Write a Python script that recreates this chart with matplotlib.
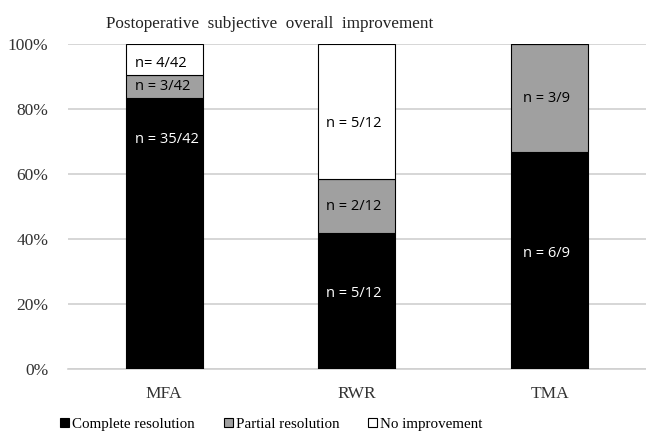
import matplotlib
matplotlib.use("Agg")
import matplotlib.pyplot as plt
import numpy as np

# data
groups = ["MFA", "RWR", "TMA"]
totals = [42, 12, 9]
complete = [35, 5, 6]
partial = [3, 2, 3]
no_improve = [4, 5, 0]
series_names = ["Complete resolution", "Partial resolution", "No improvement"]

colors = ["#000000", "#a0a0a0", "#ffffff"]
text_colors = ["white", "black", "black"]

plt.rcParams["font.family"] = "Liberation Serif"

fig = plt.figure(figsize=(6.46, 4.34), dpi=100)
ax = fig.add_axes([0.105, 0.150, 0.895, 0.749])

x = np.arange(len(groups))
counts = [complete, partial, no_improve]
bottom = np.zeros(len(groups))
for i, (vals, col) in enumerate(zip(counts, colors)):
    frac = np.array(vals) / np.array(totals)
    ax.bar(x, frac, 0.40, bottom=bottom, color=col, edgecolor="black",
           linewidth=0.8, label=series_names[i], zorder=3)
    for j in range(len(groups)):
        if vals[j] == 0:
            continue
        yc = bottom[j] + frac[j] / 2
        lbl = f"n = {vals[j]}/{totals[j]}"
        if groups[j] == "MFA":
            # labels in the first bar were nudged by hand
            if i == 0:
                yc = 0.705
            if i == 2:
                lbl = f"n= {vals[j]}/{totals[j]}"
                yc = 0.94
            ax.text(x[j] - 0.15, yc, lbl, ha="left", va="center",
                    color=text_colors[i], fontsize=10.5, family="Open Sans", zorder=4)
        else:
            if groups[j] == "RWR" and i == 2:
                yc = 0.756
            if groups[j] == "RWR" and i == 0:
                yc = 0.233
            if groups[j] == "TMA" and i == 0:
                yc = 0.354
            ax.text(x[j] - 0.015, yc, lbl, ha="center", va="center",
                    color=text_colors[i], fontsize=10.5, family="Open Sans", zorder=4)
    bottom += frac

ax.set_xlim(-0.5, 2.5)
ax.set_ylim(0, 1.0)
ax.set_yticks(np.arange(0, 1.01, 0.2))
ax.set_yticklabels([f"{int(v*100)}%" for v in np.arange(0, 1.01, 0.2)], fontsize=12.5, color="#333333")
ax.set_xticks(x)
ax.set_xticklabels(groups, fontsize=12.5, color="#333333")
ax.tick_params(length=0, pad=12)
ax.tick_params(axis="y", pad=14)
ax.yaxis.grid(True, color="#d0d0d0", linewidth=1.2, zorder=0)
ax.set_axisbelow(True)
for s in ["top", "right", "left"]:
    ax.spines[s].set_visible(False)
ax.spines["bottom"].set_color("#d0d0d0")
ax.spines["bottom"].set_linewidth(1.2)

fig.text(0.418, 0.945, "Postoperative  subjective  overall  improvement",
         ha="center", va="center", fontsize=12.3, color="#222222")

handles, labels = ax.get_legend_handles_labels()
fig.legend(handles, labels, loc="center", bbox_to_anchor=(0.42, 0.022),
           ncol=3, frameon=False, fontsize=10.8, handlelength=0.6,
           handleheight=0.6, handletextpad=0.2, columnspacing=1.9)

plt.savefig("out.png", dpi=100)
